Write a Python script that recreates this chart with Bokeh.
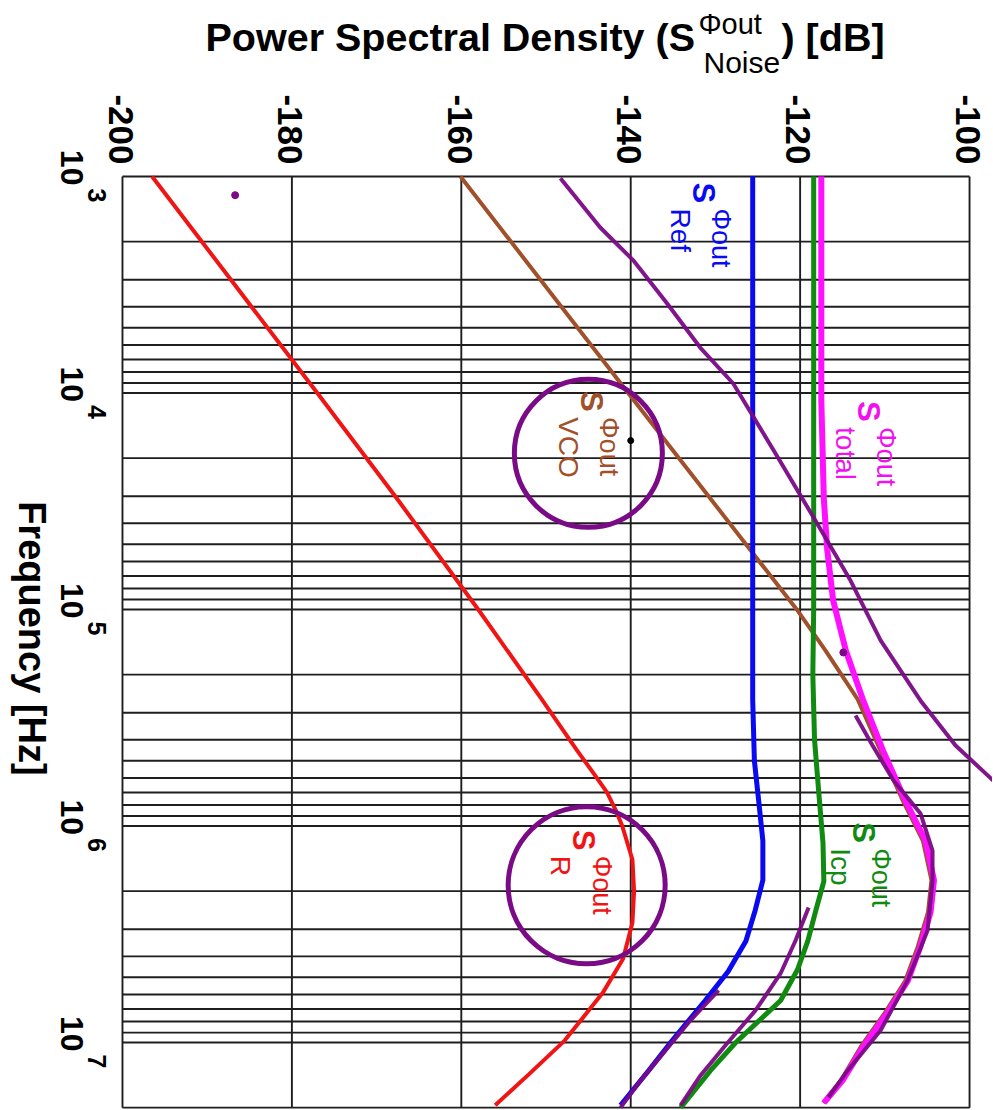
import math
from bokeh.plotting import figure
from bokeh.models import Label, Range1d
from bokeh.embed import file_html
from bokeh.resources import INLINE

# ---------------- data ----------------
db_ticks = [-200, -180, -160, -140, -120, -100]
db_tick_labels = ["-200", "-180", "-160", "-140", "-120", "-100"]
freq_decades = [1e3, 1e4, 1e5, 1e6, 1e7]
freq_exponents = ["3", "4", "5", "6", "7"]
freq_grid = [m * 10 ** d for d in range(3, 7) for m in range(1, 10)] + [1e7, 2e7]
db_min, db_max = -200, -100
f_min, f_max = 1e3, 2e7

freq_ref = [1e3, 1e4, 1e5, 2.6e5, 5e5, 7.6e5, 1.17e6, 1.78e6, 2.45e6, 3.4e6, 4.7e6, 6.4e6, 9.8e6, 1.35e7, 1.95e7]
psd_ref = [-125.6, -125.6, -125.6, -125.6, -125.4, -124.9, -124.4, -124.4, -125.3, -126.4, -128.5, -131.2, -135.1, -137.9, -141.2]

freq_icp = [1e3, 1e4, 1e5, 2e5, 4e5, 7e5, 1.2e6, 1.8e6, 2.5e6, 3.4e6, 4.6e6, 6.4e6, 1e7, 1.35e7, 2e7]
psd_icp = [-118.4, -118.4, -118.4, -118.5, -118.3, -117.8, -117.3, -117.2, -118.2, -119.1, -120.3, -122.3, -127.6, -130.6, -134.1]

freq_total = [1e3, 1.08e4, 3.1e4, 5.3e4, 9.1e4, 1.55e5, 2.6e5, 4.5e5, 7.6e5, 1.17e6, 1.78e6, 2.5e6, 3.6e6, 5.2e6, 7.3e6, 1.04e7, 1.5e7, 1.9e7]
psd_total = [-117.5, -117.5, -117.2, -116.8, -116.1, -114.6, -112.6, -110.2, -107.6, -105.2, -104.2, -104.6, -105.8, -107.3, -109.7, -112.5, -115.0, -117.2]

freq_vco = [1e3, 1e4, 1e5, 1.55e5, 2.6e5, 4.5e5, 7.6e5, 1.17e6, 1.78e6, 2.5e6, 3.6e6, 5.2e6, 7.3e6, 1.04e7, 1.5e7, 1.9e7]
psd_vco = [-160.1, -140.3, -120.4, -117.0, -113.2, -110.5, -107.9, -105.5, -104.5, -104.9, -106.1, -107.6, -110.0, -112.8, -115.2, -117.3]

freq_r = [1e3, 1e4, 3e4, 1e5, 2.6e5, 4.5e5, 5.7e5, 7e5, 8.4e5, 1e6, 1.43e6, 2e6, 2.8e6, 4.1e6, 5.9e6, 9.8e6, 1.4e7, 1.95e7]
psd_r = [-196.5, -177.0, -167.8, -158.0, -150.5, -146.3, -144.4, -142.8, -141.8, -141.0, -139.8, -139.6, -139.8, -140.9, -143.3, -147.8, -152.0, -156.0]

# hand-drawn purple annotation strokes
stroke_a_db = [-148.3, -143.6, -139.7, -135.7, -131.8, -127.9, -123.1, -118.2, -114.05, -110.5, -105.8, -101.65, -97.2]
stroke_a_f = [1.02e3, 1.72e3, 2.44e3, 3.86e3, 6.17e3, 9.04e3, 1.85e4, 3.88e4, 7.35e4, 1.39e5, 2.63e5, 4.25e5, 6.17e5]
stroke_b_db = [-113.46, -111.45, -108.97, -105.79, -104.37, -104.37, -104.96, -107.32, -110.51, -114.40, -116.65]
stroke_b_f = [3.09e5, 4.25e5, 6.17e5, 8.75e5, 1.30e6, 1.79e6, 3.04e6, 5.18e6, 8.81e6, 1.35e7, 1.79e7]
stroke_c_db = [-119.0, -120.54, -122.31, -125.27, -128.81, -131.76, -134.12]
stroke_c_f = [2.38e6, 3.38e6, 4.80e6, 7.11e6, 1.03e7, 1.42e7, 1.95e7]
stroke_d_db = [-129.63, -132.94, -135.89, -138.84, -141.2]
stroke_d_f = [5.75e6, 7.9e6, 1.09e7, 1.5e7, 2.0e7]
circle_db = [-145.0, -145.2]
circle_f = [1.9e4, 1.88e6]
dot_db = [-186.7, -114.9]
dot_f = [1.22e3, 1.58e5]
black_dot_db = [-140.0]
black_dot_f = [1.66e4]

# curve labels: (S anchor dB, S anchor freq, subscript, colour)
curve_labels = [
    (-132.7, 1.066e3, "Ref", "#0a0af0"),
    (-113.2, 1.09e4, "total", "#f010f0"),
    (-113.8, 9.6e5, "Icp", "#108a10"),
    (-145.9, 9.8e3, "VCO", "#a0502a"),
    (-146.8, 1.04e6, "R", "#f01414"),
]

# ---------------- styles / layout ----------------
BLUE = "#0a0af0"
GREEN = "#108a10"
MAGENTA = "#ff10ff"
BROWN = "#a0502a"
RED = "#f01414"
PURPLE = "#7a0a86"
GRID = "#1e1e1e"
FONT = "Liberation Sans"
CW = -math.pi / 2  # clockwise rotation

# the frame fills the canvas; the chart box (-200..-100 dB, 1e3..2e7 Hz) sits inside it
p = figure(
    width=992, height=1109,
    x_range=Range1d(-214.40, -97.29),
    y_range=Range1d(2.0396e7, 153.9),
    y_axis_type="log",
    x_axis_location=None, y_axis_location=None,
    output_backend="svg", toolbar_location=None,
    min_border=0, title_location=None,
)
p.background_fill_color = "white"
p.border_fill_color = "white"
p.outline_line_color = None
p.xgrid.visible = False
p.ygrid.visible = False

# grid / box
p.segment(x0=db_ticks, y0=[f_min] * len(db_ticks), x1=db_ticks, y1=[f_max] * len(db_ticks),
          line_color=GRID, line_width=1.9)
p.segment(x0=[db_min] * len(freq_grid), y0=freq_grid, x1=[db_max] * len(freq_grid), y1=freq_grid,
          line_color=GRID, line_width=1.9)

# curves
p.line(psd_r, freq_r, line_color=RED, line_width=4)
p.line(psd_vco, freq_vco, line_color=BROWN, line_width=4)
p.line(psd_ref, freq_ref, line_color=BLUE, line_width=5)
p.line(psd_icp, freq_icp, line_color=GREEN, line_width=5)
p.line(psd_total, freq_total, line_color=MAGENTA, line_width=6)

# hand annotations
for xs, ys in [(stroke_a_db, stroke_a_f), (stroke_b_db, stroke_b_f),
               (stroke_c_db, stroke_c_f), (stroke_d_db, stroke_d_f)]:
    p.line(xs, ys, line_color=PURPLE, line_width=4, line_alpha=0.95)
p.scatter(circle_db[:1], circle_f[:1], marker="circle", size=148, fill_color=None,
          line_color=PURPLE, line_width=5)
p.scatter(circle_db[1:], circle_f[1:], marker="circle", size=157, fill_color=None,
          line_color=PURPLE, line_width=5)
p.scatter(dot_db, dot_f, marker="circle", size=7, fill_color=PURPLE, line_color=PURPLE)
p.scatter(black_dot_db, black_dot_f, marker="circle", size=6, fill_color="black", line_color="black")


def rlabel(x, y, text, size, color="black", bold=False, dx=0, dy=0, align="left"):
    """clockwise-rotated label; dx = screen px from anchor to the glyph baseline"""
    p.add_layout(Label(x=x, y=y, x_offset=dx + 0.35 * size, y_offset=dy, text=text, angle=CW,
                       text_align=align, text_baseline="alphabetic", text_font=FONT,
                       text_font_style="bold" if bold else "normal",
                       text_font_size=f"{size}px", text_color=color))


def hlabel(x, y, text, size, dx, dy, bold=False):
    """horizontal label; dy = screen px from anchor up to the glyph baseline"""
    p.add_layout(Label(x=x, y=y, x_offset=dx, y_offset=dy + 0.32 * size, text=text,
                       text_align="left", text_baseline="alphabetic", text_font=FONT,
                       text_font_style="bold" if bold else "normal",
                       text_font_size=f"{size}px", text_color="black"))


# curve labels
for sdb, sf, sub, col in curve_labels:
    rlabel(sdb, sf, "S", 31, col, bold=True)
    rlabel(sdb, sf, "\u03a6out", 27, col, dx=19, dy=-26)
    rlabel(sdb, sf, sub, 28, col, dx=-22, dy=-26)

# dB tick labels above the box
for t, lab in zip(db_ticks, db_tick_labels):
    rlabel(t, f_min, lab, 35, bold=True, dx=-14, dy=12, align="right")

# frequency tick labels left of the box
for f, e in zip(freq_decades, freq_exponents):
    rlabel(db_min, f, "10", 32, bold=True, dx=-62, dy=-9, align="right")
    rlabel(db_min, f, e, 25, bold=True, dx=-34, dy=-12, align="left")

# axis titles
rlabel(db_min, 1.36e5, "Frequency [Hz]", 38, bold=True, dx=-104, align="center")
hlabel(db_min, f_min, "Power Spectral Density (S", 39.5, 83, 127, bold=True)
hlabel(db_min, f_min, "\u03a6out", 29, 576, 143)
hlabel(db_min, f_min, "Noise", 30, 581, 104)
hlabel(db_min, f_min, ") [dB]", 39.5, 659, 127, bold=True)

open("out.html", "w").write(file_html(p, INLINE))
